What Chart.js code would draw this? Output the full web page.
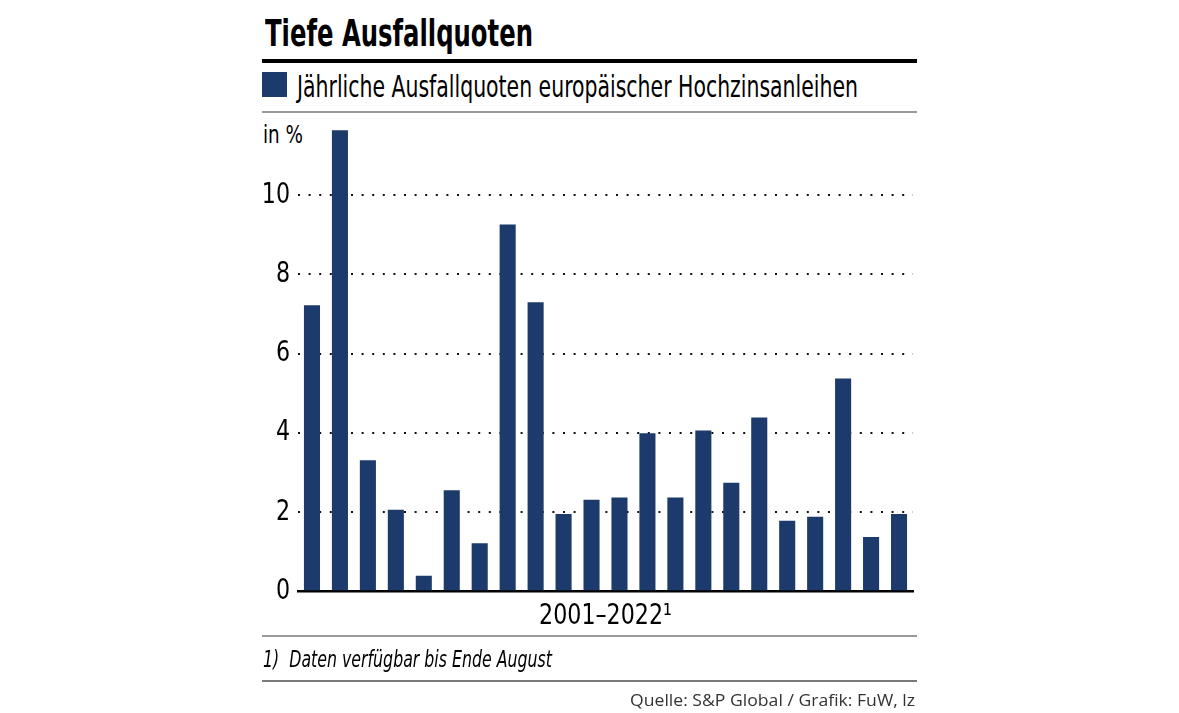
<!DOCTYPE html>
<html>
<head>
<meta charset="utf-8">
<script src="https://cdn.jsdelivr.net/npm/chart.js@4"></script>
<style>
  html, body { margin:0; padding:0; background:#fff; }
  body { width:1179px; height:713px; position:relative; overflow:hidden; }
  .t { position:absolute; white-space:nowrap; line-height:1; display:inline-block; }
  .cond { font-family:"Liberation Sans Narrow","DejaVu Sans Condensed","Liberation Sans",sans-serif; }
  .rule { position:absolute; left:262px; width:655px; }
  #wrap { position:absolute; left:0; top:0; width:1179px; height:713px; }
</style>
</head>
<body>
<div class="t cond" id="title" data-w="268" style="left:265px; top:14px; font-size:38px; font-weight:bold; color:#000;">Tiefe Ausfallquoten</div>
<div class="rule" style="top:59px; height:4px; background:#000;"></div>
<div style="position:absolute; left:262px; top:72px; width:25px; height:25px; background:#1c3a6c;"></div>
<div class="t cond" id="legend" data-w="561" style="left:297px; top:71px; font-size:31px; color:#000;">Jährliche Ausfallquoten europäischer Hochzinsanleihen</div>
<div class="rule" style="top:111px; height:1.5px; background:#9a9a9a;"></div>
<div class="t cond" id="unit" data-w="40" style="left:263px; top:122px; font-size:25px; color:#000;">in %</div>
<div id="wrap"><canvas id="c" width="1179" height="713"></canvas></div>
<div class="rule" style="top:635px; height:1.5px; background:#9a9a9a;"></div>
<div class="t cond" id="foot" data-w="289" style="left:263px; top:648px; font-size:23px; font-style:italic; color:#000;">1)&nbsp; Daten verfügbar bis Ende August</div>
<div class="rule" style="top:680px; height:1.5px; background:#7a7a7a;"></div>
<div class="t" id="src" data-w="285" data-r="1" style="right:264px; top:692px; font-size:16px; font-family:'Open Sans',sans-serif; color:#333;">Quelle: S&amp;P Global / Grafik: FuW, lz</div>
<script>
// ---- data ----
const years = ["2001","2002","2003","2004","2005","2006","2007","2008","2009","2010","2011",
               "2012","2013","2014","2015","2016","2017","2018","2019","2020","2021","2022"];
const defaultRates = [7.22, 11.64, 3.31, 2.06, 0.39, 2.55, 1.21, 9.26, 7.30, 1.95, 2.31,
                      2.37, 3.99, 2.37, 4.06, 2.74, 4.39, 1.78, 1.88, 5.37, 1.37, 1.95];
const yTicks = [0, 2, 4, 6, 8, 10];
const seriesLabel = "Jährliche Ausfallquoten europäischer Hochzinsanleihen";
const xAxisTitle = "2001–2022¹";

// fit html text widths
document.querySelectorAll('.t[data-w]').forEach(el => {
  const w = el.getBoundingClientRect().width;
  const target = parseFloat(el.dataset.w);
  el.style.transformOrigin = el.dataset.r ? 'right top' : 'left top';
  el.style.transform = 'scaleX(' + (target / w) + ')';
});

const condFont = '"Liberation Sans Narrow","DejaVu Sans Condensed","Liberation Sans",sans-serif';
const bottomAxisH = 40;
const plotBottom = 591.3;

// condense canvas text of the axes horizontally (no narrow font installed)
const condensePlugin = {
  id: 'condense',
  beforeDraw(chart) {
    const y = chart.scales.y, x = chart.scales.x;
    if (!y._patched) {
      const orig = y.drawLabels;
      y.drawLabels = function (area) {
        const ctx = this.ctx, ax = this.right - 8;
        ctx.save();
        ctx.translate(ax, 0); ctx.scale(0.85, 1); ctx.translate(-ax, 0);
        orig.call(this, area);
        ctx.restore();
      };
      y._patched = true;
    }
    if (!x._patched) {
      const origT = x.drawTitle;
      x.drawTitle = function () {
        const ctx = this.ctx, ax = (this.left + this.right) / 2;
        ctx.save();
        ctx.translate(ax, 0); ctx.scale(0.88, 1); ctx.translate(-ax, 0);
        origT.call(this);
        ctx.restore();
      };
      x._patched = true;
    }
  }
};

new Chart(document.getElementById('c'), {
  type: 'bar',
  data: {
    labels: years,
    datasets: [{
      label: seriesLabel,
      data: defaultRates,
      backgroundColor: '#1c3a6c',
      borderWidth: 0,
      barPercentage: 0.575,
      categoryPercentage: 1.0
    }]
  },
  plugins: [condensePlugin],
  options: {
    responsive: false,
    animation: false,
    devicePixelRatio: 1,
    layout: { padding: { left: 255, right: 1179 - 913, top: 116, bottom: 713 - plotBottom - bottomAxisH } },
    plugins: { legend: { display: false }, title: { display: false }, tooltip: { enabled: false } },
    scales: {
      x: {
        grid: { display: false },
        border: { display: true, color: '#000', width: 2.5 },
        ticks: { display: false },
        title: {
          display: true, text: xAxisTitle, color: '#000',
          font: { family: condFont, size: 28, lineHeight: 1 },
          padding: { top: 0, bottom: 1 }
        },
        afterFit: s => { s.height = bottomAxisH; }
      },
      y: {
        min: 0, max: 12,
        afterBuildTicks: s => { s.ticks = yTicks.map(v => ({ value: v })); },
        afterFit: s => { s.width = 43; },
        grid: {
          drawTicks: false,
          lineWidth: 2,
          color: ctx => (ctx.tick && ctx.tick.value === 0) ? 'rgba(0,0,0,0)' : '#111'
        },
        border: { display: false, dash: [2, 8.6] },
        ticks: {
          padding: 8,
          color: '#000',
          font: { family: condFont, size: 29 },
          callback: v => String(v)
        }
      }
    }
  }
});
</script>
</body>
</html>
